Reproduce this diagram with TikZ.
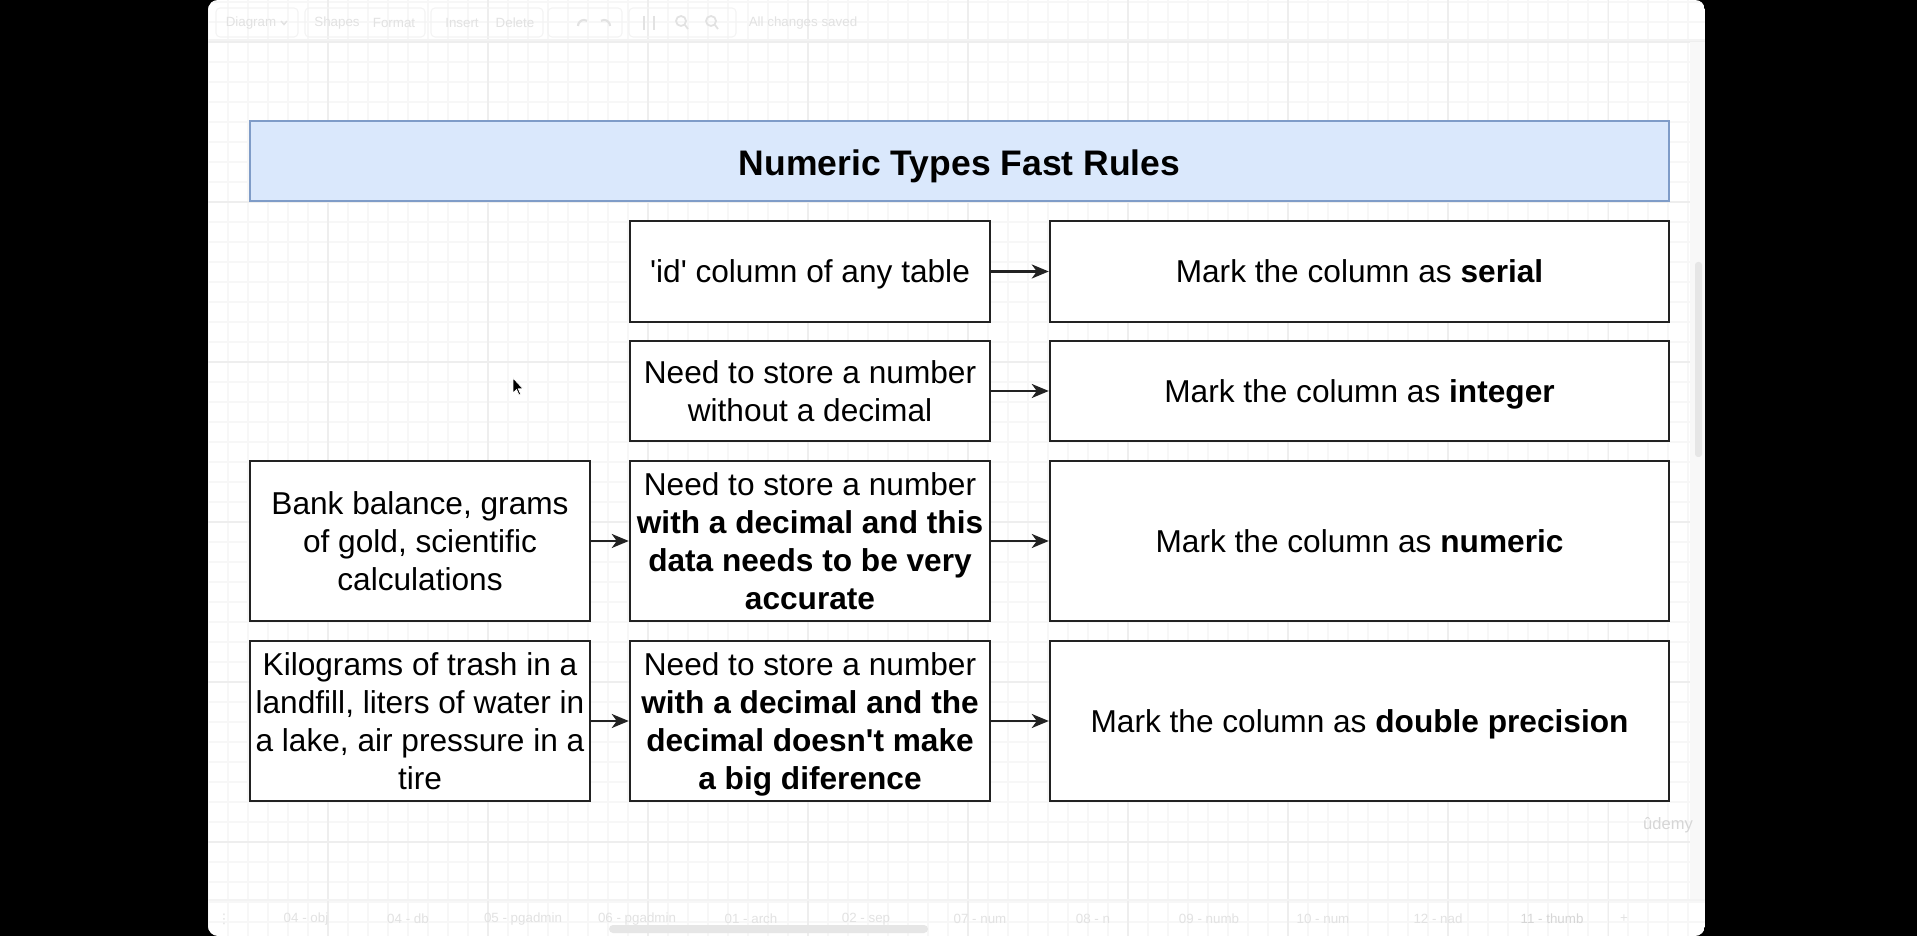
\documentclass[tikz,border=0pt]{standalone}
\usepackage{fontspec}
\setmainfont{Liberation Sans}
\newfontfamily\dejavu{DejaVu Sans}
\usetikzlibrary{arrows.meta}
\definecolor{gridminor}{HTML}{F7F7F7}
\definecolor{gridmajor}{HTML}{EEEEEE}
\definecolor{uitext}{HTML}{E2E2E2}
\definecolor{uiline}{HTML}{F3F3F3}
\definecolor{titlefill}{HTML}{DAE8FC}
\definecolor{titledraw}{HTML}{7F9CC8}
\definecolor{boxdraw}{HTML}{222222}
\definecolor{stripgrey}{HTML}{F8F8F8}
\definecolor{thumbgrey}{HTML}{E6E6E6}
\definecolor{logogrey}{HTML}{D6D6D6}
\begin{document}
\begin{tikzpicture}[
  box/.style={draw=boxdraw, line width=0.7pt, fill=white, align=center,
    font=\fontsize{9}{10.8}\selectfont, inner sep=0pt, text depth=0pt},
  oneline/.style={box, text height=6.4pt},
  titlebox/.style={draw=titledraw, line width=0.7pt, fill=titlefill, align=center,
    font=\bfseries\fontsize{10.1}{12}\selectfont, inner sep=0pt, text height=0.80em, text depth=0pt},
  conn/.style={draw=boxdraw, line width=0.7pt, -{Stealth[length=0.17cm,width=0.14cm,inset=0.05cm]}},
  uilabel/.style={text=uitext, font=\fontsize{3.8}{4.5}\selectfont, inner sep=0pt},
  uibtn/.style={draw=uiline, line width=0.3pt, rounded corners=0.04cm}
]
\useasboundingbox (0,0) rectangle (19.17,-9.36);
\fill[black] (0,0) rectangle (19.17,-9.36);
\begin{scope}
  \clip[rounded corners=0.1cm] (2.08,0) rectangle (17.05,-9.36);
  \fill[white] (2.08,0) rectangle (17.05,-9.36);
  \foreach \x in {2.08,2.28,...,17.06} \draw[gridminor, line width=0.3pt] (\x,0) -- (\x,-9.36);
  \foreach \y in {-0.02,-0.22,...,-9.37} \draw[gridminor, line width=0.3pt] (2.08,\y) -- (17.05,\y);
  \foreach \x in {3.28,4.88,...,16.09} \draw[gridmajor, line width=0.3pt] (\x,0) -- (\x,-9.36);
  \foreach \y in {-0.42,-2.02,-3.62,-5.22,-6.82,-8.42} \draw[gridmajor, line width=0.3pt] (2.08,\y) -- (17.05,\y);
  % right strip and scrollbar
  \fill[stripgrey] (16.90,-0.42) rectangle (17.05,-9.0);
  \fill[thumbgrey, rounded corners=0.03cm] (16.95,-2.62) rectangle (17.02,-4.57);
  % toolbar
  \draw[uiline, line width=0.4pt] (2.08,-0.40) -- (17.05,-0.40);
  \draw[uibtn] (2.16,-0.08) rectangle (2.98,-0.37);
  \draw[uibtn] (3.05,-0.08) rectangle (4.25,-0.37);
  \draw[uibtn] (4.31,-0.08) rectangle (5.43,-0.37);
  \draw[uibtn] (5.48,-0.08) rectangle (6.22,-0.37);
  \draw[uibtn] (6.29,-0.08) rectangle (7.36,-0.37);
  \node[uilabel] (tdiag) at (2.51,-0.23) {Diagram};
  \draw[uitext, line width=0.4pt] (2.81,-0.21) -- (2.84,-0.245) -- (2.87,-0.21);
  \node[uilabel] (tshapes) at (3.37,-0.23) {Shapes};
  \node[uilabel] (tformat) at (3.94,-0.23) {Format};
  \node[uilabel] (tinsert) at (4.62,-0.23) {Insert};
  \node[uilabel] (tdelete) at (5.15,-0.23) {Delete};
  \draw[uitext, line width=0.6pt] (5.78,-0.26) arc (180:60:0.06);
  \draw[uitext, line width=0.6pt] (6.10,-0.26) arc (0:120:0.06);
  \draw[uitext, line width=0.4pt] (6.44,-0.16) -- (6.44,-0.30) (6.54,-0.16) -- (6.54,-0.30);
  \draw[uitext, line width=0.5pt] (6.81,-0.21) circle (0.05) (6.85,-0.25) -- (6.88,-0.29);
  \draw[uitext, line width=0.5pt] (7.11,-0.21) circle (0.05) (7.15,-0.25) -- (7.18,-0.29);
  \node[uilabel] (tsaved) at (8.03,-0.23) {All changes saved};
  % footer
  \draw[uiline, line width=0.4pt] (2.08,-9.00) -- (17.05,-9.00);
  \node[uilabel, font=\dejavu\fontsize{3.8}{4.5}\selectfont] (f0) at (2.24,-9.19) {⋮};
  \node[uilabel] (f1) at (3.06,-9.19) {04 - obj};
  \node[uilabel] (f2) at (4.08,-9.19) {04 - db};
  \node[uilabel] (f3) at (5.23,-9.19) {05 - pgadmin};
  \node[uilabel] (f4) at (6.37,-9.19) {06 - pgadmin};
  \node[uilabel] (f5) at (7.51,-9.19) {01 - arch};
  \node[uilabel] (f6) at (8.66,-9.19) {02 - sep};
  \node[uilabel] (f7) at (9.80,-9.19) {07 - num};
  \node[uilabel] (f8) at (10.93,-9.19) {08 - n};
  \node[uilabel] (f9) at (12.09,-9.19) {09 - numb};
  \node[uilabel] (f10) at (13.23,-9.19) {10 - num};
  \node[uilabel] (f11) at (14.38,-9.19) {12 - nad};
  \node[uilabel, text=logogrey] (f12) at (15.52,-9.19) {11 - thumb};
  \node[uilabel] (f13) at (16.24,-9.19) {+};
  \fill[thumbgrey, rounded corners=0.04cm] (6.09,-9.25) rectangle (9.28,-9.33);
\end{scope}

% title
\node[titlebox, minimum width=14.19cm, minimum height=0.80cm] (title) at (9.595,-1.61) {Numeric Types Fast Rules};

% row 1
\node[oneline, minimum width=3.60cm, minimum height=1.01cm] (m1) at (8.10,-2.715) {\textquotesingle id\textquotesingle{} column of any table};
\node[oneline, minimum width=6.19cm, minimum height=1.01cm] (r1) at (13.595,-2.715) {Mark the column as \textbf{serial}};
% row 2
\node[box, minimum width=3.60cm, minimum height=1.00cm] (m2) at (8.10,-3.91) {Need to store a number\\without a decimal};
\node[oneline, minimum width=6.19cm, minimum height=1.00cm] (r2) at (13.595,-3.91) {Mark the column as \textbf{integer}};
% row 3
\node[box, minimum width=3.40cm, minimum height=1.60cm] (l3) at (4.20,-5.41) {Bank balance, grams\\of gold, scientific\\calculations};
\node[box, minimum width=3.60cm, minimum height=1.60cm] (m3) at (8.10,-5.41) {Need to store a number\\\textbf{with a decimal and this}\\\textbf{data needs to be very}\\\textbf{accurate}};
\node[oneline, minimum width=6.19cm, minimum height=1.60cm] (r3) at (13.595,-5.41) {Mark the column as \textbf{numeric}};
% row 4
\node[box, minimum width=3.40cm, minimum height=1.60cm] (l4) at (4.20,-7.21) {Kilograms of trash in a\\landfill, liters of water in\\a lake, air pressure in a\\tire};
\node[box, minimum width=3.60cm, minimum height=1.60cm] (m4) at (8.10,-7.21) {Need to store a number\\\textbf{with a decimal and the}\\\textbf{decimal doesn\textquotesingle t make}\\\textbf{a big diference}};
\node[oneline, minimum width=6.19cm, minimum height=1.60cm] (r4) at (13.595,-7.21) {Mark the column as \textbf{double precision}};

\draw[conn] (m1) -- (r1);
\draw[conn] (m2) -- (r2);
\draw[conn] (l3) -- (m3);
\draw[conn] (m3) -- (r3);
\draw[conn] (l4) -- (m4);
\draw[conn] (m4) -- (r4);

% watermark
\node[text=logogrey, font=\fontsize{4.7}{5.6}\selectfont, inner sep=0pt] (logo) at (16.68,-8.25) {\^udemy};

% mouse cursor
\filldraw[fill=black, draw=white, line width=0.2pt] (5.13,-3.78) -- (5.13,-3.93) -- (5.165,-3.895) -- (5.19,-3.95) -- (5.207,-3.942) -- (5.183,-3.888) -- (5.23,-3.888) -- cycle;
\end{tikzpicture}
\end{document}
